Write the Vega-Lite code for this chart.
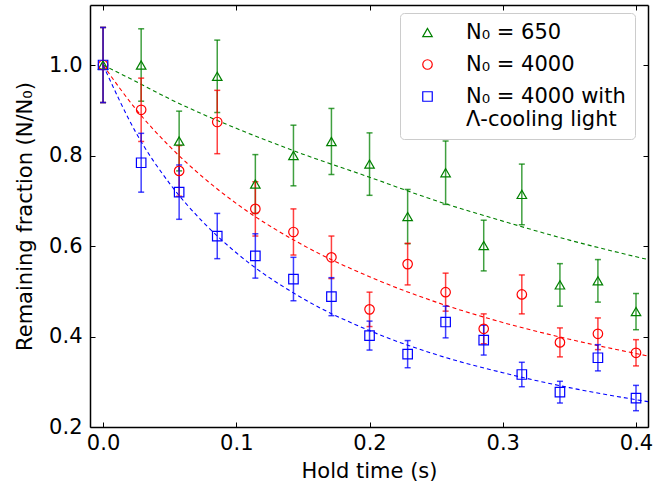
{
  "$schema": "https://vega.github.io/schema/vega-lite/v6.json",
  "width": 558,
  "height": 422,
  "autosize": "none",
  "padding": {"left": 90, "top": 5, "right": 24, "bottom": 64},
  "config": {
    "font": "DejaVu Sans",
    "view": {"stroke": null},
    "style": {"guide-label": {"lineHeight": 23}},
    "axis": {
      "domainColor": "black",
      "domainWidth": 1.5,
      "tickColor": "black",
      "tickWidth": 1,
      "tickSize": -5,
      "grid": false,
      "labelFontSize": 21,
      "labelColor": "black",
      "titleFontSize": 21,
      "titleFontWeight": "normal",
      "titleColor": "black"
    }
  },
  "datasets": {
    "pts": [
      {"t": 0.0, "v": 1.0, "err": 0.083, "s": "N₀ = 650"},
      {"t": 0.0286, "v": 1.0, "err": 0.08, "s": "N₀ = 650"},
      {"t": 0.0571, "v": 0.832, "err": 0.066, "s": "N₀ = 650"},
      {"t": 0.0857, "v": 0.975, "err": 0.08, "s": "N₀ = 650"},
      {"t": 0.1143, "v": 0.737, "err": 0.065, "s": "N₀ = 650"},
      {"t": 0.1429, "v": 0.8, "err": 0.067, "s": "N₀ = 650"},
      {"t": 0.1714, "v": 0.831, "err": 0.073, "s": "N₀ = 650"},
      {"t": 0.2, "v": 0.781, "err": 0.069, "s": "N₀ = 650"},
      {"t": 0.2286, "v": 0.665, "err": 0.06, "s": "N₀ = 650"},
      {"t": 0.2571, "v": 0.762, "err": 0.07, "s": "N₀ = 650"},
      {"t": 0.2857, "v": 0.601, "err": 0.056, "s": "N₀ = 650"},
      {"t": 0.3143, "v": 0.714, "err": 0.067, "s": "N₀ = 650"},
      {"t": 0.3429, "v": 0.514, "err": 0.047, "s": "N₀ = 650"},
      {"t": 0.3714, "v": 0.523, "err": 0.047, "s": "N₀ = 650"},
      {"t": 0.4, "v": 0.455, "err": 0.04, "s": "N₀ = 650"},
      {"t": 0.0, "v": 1.0, "err": 0.083, "s": "N₀ = 4000"},
      {"t": 0.0286, "v": 0.901, "err": 0.07, "s": "N₀ = 4000"},
      {"t": 0.0571, "v": 0.766, "err": 0.056, "s": "N₀ = 4000"},
      {"t": 0.0857, "v": 0.874, "err": 0.07, "s": "N₀ = 4000"},
      {"t": 0.1143, "v": 0.682, "err": 0.06, "s": "N₀ = 4000"},
      {"t": 0.1429, "v": 0.631, "err": 0.051, "s": "N₀ = 4000"},
      {"t": 0.1714, "v": 0.575, "err": 0.047, "s": "N₀ = 4000"},
      {"t": 0.2, "v": 0.46, "err": 0.038, "s": "N₀ = 4000"},
      {"t": 0.2286, "v": 0.56, "err": 0.046, "s": "N₀ = 4000"},
      {"t": 0.2571, "v": 0.498, "err": 0.042, "s": "N₀ = 4000"},
      {"t": 0.2857, "v": 0.417, "err": 0.033, "s": "N₀ = 4000"},
      {"t": 0.3143, "v": 0.493, "err": 0.043, "s": "N₀ = 4000"},
      {"t": 0.3429, "v": 0.387, "err": 0.032, "s": "N₀ = 4000"},
      {"t": 0.3714, "v": 0.406, "err": 0.035, "s": "N₀ = 4000"},
      {"t": 0.4, "v": 0.364, "err": 0.029, "s": "N₀ = 4000"},
      {"t": 0.0, "v": 1.0, "err": 0.083, "s": "N₀ = 4000 with Λ-cooling light"},
      {"t": 0.0286, "v": 0.784, "err": 0.065, "s": "N₀ = 4000 with Λ-cooling light"},
      {"t": 0.0571, "v": 0.719, "err": 0.06, "s": "N₀ = 4000 with Λ-cooling light"},
      {"t": 0.0857, "v": 0.622, "err": 0.05, "s": "N₀ = 4000 with Λ-cooling light"},
      {"t": 0.1143, "v": 0.578, "err": 0.049, "s": "N₀ = 4000 with Λ-cooling light"},
      {"t": 0.1429, "v": 0.527, "err": 0.048, "s": "N₀ = 4000 with Λ-cooling light"},
      {"t": 0.1714, "v": 0.488, "err": 0.042, "s": "N₀ = 4000 with Λ-cooling light"},
      {"t": 0.2, "v": 0.402, "err": 0.032, "s": "N₀ = 4000 with Λ-cooling light"},
      {"t": 0.2286, "v": 0.361, "err": 0.03, "s": "N₀ = 4000 with Λ-cooling light"},
      {"t": 0.2571, "v": 0.432, "err": 0.035, "s": "N₀ = 4000 with Λ-cooling light"},
      {"t": 0.2857, "v": 0.392, "err": 0.033, "s": "N₀ = 4000 with Λ-cooling light"},
      {"t": 0.3143, "v": 0.316, "err": 0.027, "s": "N₀ = 4000 with Λ-cooling light"},
      {"t": 0.3429, "v": 0.277, "err": 0.024, "s": "N₀ = 4000 with Λ-cooling light"},
      {"t": 0.3714, "v": 0.353, "err": 0.029, "s": "N₀ = 4000 with Λ-cooling light"},
      {"t": 0.4, "v": 0.264, "err": 0.028, "s": "N₀ = 4000 with Λ-cooling light"}
    ],
    "fits": [
      {"t": 0.0, "v": 1.0, "s": "N₀ = 650"},
      {"t": 0.025, "v": 0.963, "s": "N₀ = 650"},
      {"t": 0.05, "v": 0.925, "s": "N₀ = 650"},
      {"t": 0.075, "v": 0.891, "s": "N₀ = 650"},
      {"t": 0.1, "v": 0.86, "s": "N₀ = 650"},
      {"t": 0.15, "v": 0.803, "s": "N₀ = 650"},
      {"t": 0.2, "v": 0.752, "s": "N₀ = 650"},
      {"t": 0.25, "v": 0.7, "s": "N₀ = 650"},
      {"t": 0.3, "v": 0.655, "s": "N₀ = 650"},
      {"t": 0.35, "v": 0.613, "s": "N₀ = 650"},
      {"t": 0.409, "v": 0.57, "s": "N₀ = 650"},
      {"t": 0.0, "v": 1.0, "s": "N₀ = 4000"},
      {"t": 0.025, "v": 0.901, "s": "N₀ = 4000"},
      {"t": 0.05, "v": 0.82, "s": "N₀ = 4000"},
      {"t": 0.075, "v": 0.752, "s": "N₀ = 4000"},
      {"t": 0.1, "v": 0.694, "s": "N₀ = 4000"},
      {"t": 0.15, "v": 0.602, "s": "N₀ = 4000"},
      {"t": 0.2, "v": 0.532, "s": "N₀ = 4000"},
      {"t": 0.25, "v": 0.476, "s": "N₀ = 4000"},
      {"t": 0.3, "v": 0.431, "s": "N₀ = 4000"},
      {"t": 0.35, "v": 0.394, "s": "N₀ = 4000"},
      {"t": 0.409, "v": 0.357, "s": "N₀ = 4000"},
      {"t": 0.0, "v": 1.0, "s": "N₀ = 4000 with Λ-cooling light"},
      {"t": 0.025, "v": 0.849, "s": "N₀ = 4000 with Λ-cooling light"},
      {"t": 0.05, "v": 0.738, "s": "N₀ = 4000 with Λ-cooling light"},
      {"t": 0.075, "v": 0.653, "s": "N₀ = 4000 with Λ-cooling light"},
      {"t": 0.1, "v": 0.585, "s": "N₀ = 4000 with Λ-cooling light"},
      {"t": 0.15, "v": 0.484, "s": "N₀ = 4000 with Λ-cooling light"},
      {"t": 0.2, "v": 0.413, "s": "N₀ = 4000 with Λ-cooling light"},
      {"t": 0.25, "v": 0.36, "s": "N₀ = 4000 with Λ-cooling light"},
      {"t": 0.3, "v": 0.32, "s": "N₀ = 4000 with Λ-cooling light"},
      {"t": 0.35, "v": 0.287, "s": "N₀ = 4000 with Λ-cooling light"},
      {"t": 0.409, "v": 0.256, "s": "N₀ = 4000 with Λ-cooling light"}
    ]
  },
  "resolve": {"axis": {"x": "independent", "y": "independent"}},
  "layer": [
    {
      "data": {"name": "fits"},
      "transform": [{"filter": "datum.s == 'N₀ = 650'"}],
      "mark": {"type": "line", "color": "#008000", "strokeDash": [4, 3], "strokeWidth": 1.1, "interpolate": "monotone", "clip": true},
      "encoding": {
        "x": {"field": "t", "type": "quantitative", "axis": null, "scale": {"domain": [-0.0098, 0.409], "nice": false, "zero": false}},
        "y": {"field": "v", "type": "quantitative", "axis": null, "scale": {"domain": [0.2, 1.1326], "nice": false, "zero": false}}
      }
    },
    {
      "data": {"name": "fits"},
      "transform": [{"filter": "datum.s == 'N₀ = 4000'"}],
      "mark": {"type": "line", "color": "#ff0000", "strokeDash": [4, 3], "strokeWidth": 1.1, "interpolate": "monotone", "clip": true},
      "encoding": {
        "x": {"field": "t", "type": "quantitative", "axis": null},
        "y": {"field": "v", "type": "quantitative", "axis": null}
      }
    },
    {
      "data": {"name": "fits"},
      "transform": [{"filter": "datum.s == 'N₀ = 4000 with Λ-cooling light'"}],
      "mark": {"type": "line", "color": "#0000ff", "strokeDash": [4, 3], "strokeWidth": 1.1, "interpolate": "monotone", "clip": true},
      "encoding": {
        "x": {"field": "t", "type": "quantitative", "axis": null},
        "y": {"field": "v", "type": "quantitative", "axis": null}
      }
    },
    {
      "data": {"name": "pts"},
      "transform": [{"filter": "datum.s == 'N₀ = 650'"}],
      "mark": {"type": "errorbar", "color": "#008000", "ticks": {"size": 6, "thickness": 1.5, "opacity": 0.75}, "rule": {"strokeWidth": 1.5, "opacity": 0.75}},
      "encoding": {
        "x": {"field": "t", "type": "quantitative", "axis": null},
        "y": {"field": "v", "type": "quantitative", "axis": null},
        "yError": {"field": "err"}
      }
    },
    {
      "data": {"name": "pts"},
      "transform": [{"filter": "datum.s == 'N₀ = 4000'"}],
      "mark": {"type": "errorbar", "color": "#ff0000", "ticks": {"size": 6, "thickness": 1.5, "opacity": 0.75}, "rule": {"strokeWidth": 1.5, "opacity": 0.75}},
      "encoding": {
        "x": {"field": "t", "type": "quantitative", "axis": null},
        "y": {"field": "v", "type": "quantitative", "axis": null},
        "yError": {"field": "err"}
      }
    },
    {
      "data": {"name": "pts"},
      "transform": [{"filter": "datum.s == 'N₀ = 4000 with Λ-cooling light'"}],
      "mark": {"type": "errorbar", "color": "#0000ff", "ticks": {"size": 6, "thickness": 1.5, "opacity": 0.75}, "rule": {"strokeWidth": 1.5, "opacity": 0.75}},
      "encoding": {
        "x": {"field": "t", "type": "quantitative", "axis": null},
        "y": {"field": "v", "type": "quantitative", "axis": null},
        "yError": {"field": "err"}
      }
    },
    {
      "data": {"name": "pts"},
      "mark": {"type": "point", "filled": false, "strokeWidth": 1.2, "size": 90, "opacity": 1},
      "encoding": {
        "x": {"field": "t", "type": "quantitative", "title": "Hold time (s)", "axis": {"orient": "bottom", "values": [0, 0.1, 0.2, 0.3, 0.4], "format": ".1f", "labelPadding": 10, "titlePadding": 7}},
        "y": {"field": "v", "type": "quantitative", "title": "Remaining fraction (N/N₀)", "axis": {"orient": "left", "values": [0.2, 0.4, 0.6, 0.8, 1.0], "format": ".1f", "labelPadding": 13, "titlePadding": 13}},
        "color": {"field": "s", "type": "nominal", "scale": {"domain": ["N₀ = 650", "N₀ = 4000", "N₀ = 4000 with Λ-cooling light"], "range": ["#008000", "#ff0000", "#0000ff"]}, "legend": {
          "title": null, "orient": "none", "legendX": 310, "legendY": 8,
          "labelFontSize": 21, "labelColor": "black", "symbolSize": 90, "symbolStrokeWidth": 1.2,
          "strokeColor": "#cccccc", "fillColor": "white", "cornerRadius": 4, "padding": 9,
          "symbolOffset": 8, "rowPadding": 10, "labelOffset": 28,
          "labelExpr": "datum.value == 'N₀ = 4000 with Λ-cooling light' ? ['N₀ = 4000 with', 'Λ-cooling light'] : datum.label"
        }},
        "shape": {"field": "s", "type": "nominal", "scale": {"domain": ["N₀ = 650", "N₀ = 4000", "N₀ = 4000 with Λ-cooling light"], "range": ["triangle-up", "circle", "square"]}}
      }
    },
    {
      "data": {"name": "pts"},
      "mark": {"type": "point", "opacity": 0},
      "encoding": {
        "x": {"field": "t", "type": "quantitative", "axis": {"orient": "top", "values": [0, 0.1, 0.2, 0.3, 0.4], "labels": false, "title": null}},
        "y": {"field": "v", "type": "quantitative", "axis": {"orient": "right", "values": [0.2, 0.4, 0.6, 0.8, 1.0], "labels": false, "title": null}}
      }
    }
  ]
}
